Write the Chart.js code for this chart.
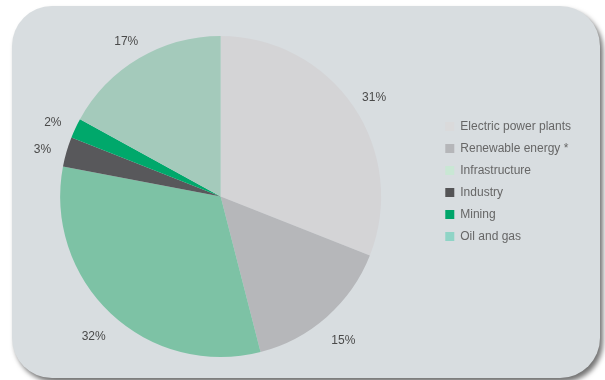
<!DOCTYPE html>
<html>
<head>
<meta charset="utf-8">
<script src="https://cdn.jsdelivr.net/npm/chart.js@4/dist/chart.umd.min.js"></script>
<style>
  html, body { margin: 0; padding: 0; background: #ffffff; }
  body { width: 605px; height: 380px; position: relative; overflow: hidden; }
  .painel {
    position: absolute; left: 12px; top: 6px; width: 588px; height: 372px;
    background: #d8dde0; border-radius: 40px;
    box-shadow: 3px 4px 5px rgba(0, 0, 0, 0.55);
  }
  #grafico { position: absolute; left: 0; top: 0; }
</style>
</head>
<body>
<div class="painel"></div>
<canvas id="grafico" width="605" height="380"></canvas>
<script>
// Dados do gráfico
const categorias = ["Electric power plants", "Renewable energy *", "Infrastructure", "Industry", "Mining", "Oil and gas"]
const percentuais = [31, 15, 32, 3, 2, 17]
const coresFatias = ["#d4d4d6", "#b6b7ba", "#7dc2a5", "#58585b", "#00a86b", "#a4cabb"]
const coresLegenda = ["#dadadb", "#b5b6b9", "#c9e7d4", "#545456", "#00a56a", "#8fd4c6"]

// Rótulos de porcentagem fora das fatias
const rotulosExternos = {
  id: "rotulosExternos",
  afterDatasetsDraw(chart) {
    const ctx = chart.ctx
    const meta = chart.getDatasetMeta(0)
    ctx.save()
    ctx.font = "12px 'Liberation Sans', Arial, sans-serif"
    ctx.fillStyle = "#4a4a4a"
    ctx.textAlign = "center"
    ctx.textBaseline = "middle"
    meta.data.forEach((arco, i) => {
      const { x, y, startAngle, endAngle, outerRadius } = arco.getProps(["x", "y", "startAngle", "endAngle", "outerRadius"], true)
      const meio = (startAngle + endAngle) / 2
      const r = outerRadius + 25
      ctx.fillText(percentuais[i] + "%", x + Math.cos(meio) * r, y + Math.sin(meio) * r + 5)
    })
    ctx.restore()
  }
}

const ctxGrafico = document.getElementById("grafico").getContext("2d")
new Chart(ctxGrafico, {
  type: "pie",
  data: {
    labels: categorias,
    datasets: [{
      data: percentuais,
      backgroundColor: coresFatias,
      borderWidth: 0
    }]
  },
  options: {
    responsive: false,
    animation: false,
    layout: { padding: { top: 36, bottom: 23, left: 6, right: 24 } },
    plugins: {
      tooltip: { enabled: false },
      legend: {
        position: "right",
        align: "start",
        title: { display: true, text: " ", padding: { top: 60, bottom: 0 } },
        labels: {
          boxWidth: 9,
          boxHeight: 9,
          padding: 10,
          color: "#444444",
          font: { size: 12, family: "'Liberation Sans', Arial, sans-serif" },
          generateLabels(chart) {
            return categorias.map((nome, i) => ({
              text: nome,
              fillStyle: coresLegenda[i],
              strokeStyle: coresLegenda[i],
              lineWidth: 0,
              hidden: false,
              index: i
            }))
          }
        }
      }
    }
  },
  plugins: [rotulosExternos]
})
</script>
</body>
</html>
